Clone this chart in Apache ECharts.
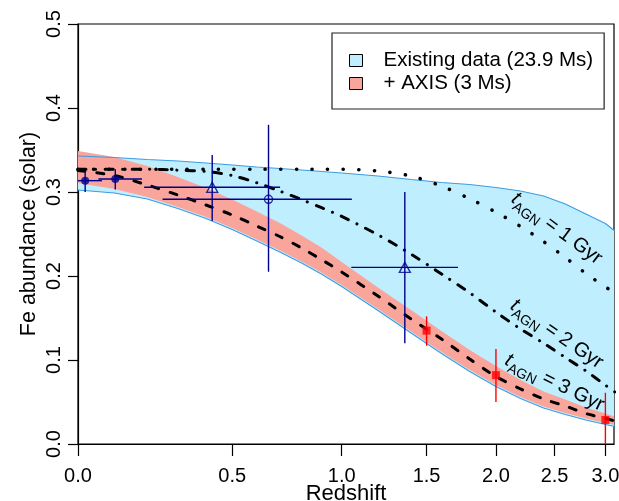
<!DOCTYPE html>
<html><head><meta charset="utf-8">
<script src="https://cdn.jsdelivr.net/npm/echarts@6/dist/echarts.min.js"></script>
<style>html,body{margin:0;padding:0;background:#fff}#c{width:619px;height:501px}</style>
</head><body><div id="c"></div>
<script>
// ---- data (redshift z, Fe abundance in solar units) ----
const zGrid = [0,0.1,0.2,0.3,0.4,0.5,0.6,0.7,0.8,0.9,1.0,1.2,1.4,1.6,1.8,2.0,2.2,2.4,2.6,2.8,3.0,3.1];
const existingUpper = [0.3429,0.3411,0.3387,0.3369,0.3345,0.3321,0.3298,0.3280,0.3262,0.3244,0.3226,0.3190,0.3149,0.3113,0.3089,0.3054,0.3012,0.2952,0.2857,0.2738,0.2625,0.2536];
const existingLower = [0.3024,0.2988,0.2917,0.2804,0.2685,0.2554,0.2417,0.2286,0.2155,0.2018,0.1875,0.1589,0.1321,0.1077,0.0863,0.0685,0.0542,0.0429,0.0351,0.0286,0.0232,0.0208];
const axisUpper = [0.3488,0.3417,0.3310,0.3179,0.3048,0.2911,0.2768,0.2631,0.2482,0.2333,0.2167,0.1863,0.1595,0.1345,0.1119,0.0929,0.0762,0.0625,0.0530,0.0435,0.0363,0.0327];
const axisLower = [0.3107,0.3036,0.2940,0.2821,0.2702,0.2571,0.2435,0.2304,0.2173,0.2036,0.1893,0.1607,0.1339,0.1095,0.0881,0.0702,0.0560,0.0446,0.0369,0.0304,0.0250,0.0226];
const tAgn1 = [0.327,0.327,0.327,0.327,0.327,0.327,0.327,0.327,0.327,0.327,0.327,0.325,0.319,0.307,0.292,0.276,0.259,0.241,0.222,0.203,0.187,0.180];
const tAgn2 = [0.327,0.327,0.327,0.326,0.3244,0.3196,0.311,0.301,0.291,0.281,0.271,0.249,0.226,0.2024,0.180,0.157,0.137,0.120,0.103,0.087,0.070,0.062];
const tAgn3 = [0.3256,0.3196,0.3083,0.2964,0.2845,0.2726,0.2595,0.2470,0.2333,0.2190,0.2048,0.1762,0.1488,0.1250,0.1012,0.0804,0.0655,0.0536,0.0452,0.0363,0.0304,0.0274];

// existing measurements
const obsZ = [0.019, 0.103, 0.423, 0.650, 1.361];
const obsFe = [0.3135, 0.3155, 0.3056, 0.2913, 0.2103];
const obsFeLo = [0.300, 0.303, 0.2655, 0.2051, 0.1199];
const obsFeHi = [0.325, 0.327, 0.344, 0.380, 0.300];
const obsZLo = [0.0, 0.055, 0.19, 0.249, 1.051];
const obsZHi = [0.065, 0.183, 0.701, 1.054, 1.715];
const obsSymbol = ['circle','circle','triangle','circle','triangle'];
const obsFilled = [true, true, false, false, false];

// AXIS simulated measurements
const axZ = [1.5, 2.0, 3.0];
const axFe = [0.135, 0.082, 0.0286];
const axFeLo = [0.117, 0.050, -0.01];
const axFeHi = [0.152, 0.113, 0.061];

const xTicks = [0, 0.5, 1.0, 1.5, 2.0, 2.5, 3.0];
const curveLabels = [
  {gyr: '1', z: 2.52, fe: 0.2565, angle: 36.5},
  {gyr: '2', z: 2.52, fe: 0.1310, angle: 34.5},
  {gyr: '3', z: 2.50, fe: 0.0730, angle: 26}
];
const legendNames = ['Existing data (23.9 Ms)', '+ AXIS (3 Ms)'];

// ---- chart ----
const FONT = '"Liberation Sans", Arial, Helvetica, sans-serif';
const NAVY = '#00008B';
const BLUE_FILL = '#BFEFFF';
const BLUE_LINE = '#3D9BE3';
const RED_FILL = '#F9A59C';
const toU = z => Math.log(1 + z);
const zMax = 3.0916;
const pts = ys => zGrid.map((z, i) => [toU(z), ys[i]]);

const chart = echarts.init(document.getElementById('c'), null, {renderer: 'canvas'});

function bandRender(lower, upper, color) {
  return function (params, api) {
    if (params.dataIndex !== 0) return null;
    const poly = [];
    for (let i = 0; i < zGrid.length; i++) poly.push(api.coord([toU(zGrid[i]), upper[i]]));
    for (let i = zGrid.length - 1; i >= 0; i--) poly.push(api.coord([toU(zGrid[i]), lower[i]]));
    return {type: 'polygon', shape: {points: poly}, style: {fill: color, stroke: null}};
  };
}

function errRender(color, withX) {
  return function (params, api) {
    const x = api.value(0), y = api.value(1);
    const lo = api.coord([x, api.value(2)]);
    const hi = api.coord([x, api.value(3)]);
    const children = [{type: 'line', shape: {x1: lo[0], y1: lo[1], x2: hi[0], y2: hi[1]},
      style: {stroke: color, lineWidth: 1.4}}];
    if (withX) {
      const l = api.coord([api.value(4), y]);
      const r = api.coord([api.value(5), y]);
      children.push({type: 'line', shape: {x1: l[0], y1: l[1], x2: r[0], y2: r[1]},
        style: {stroke: color, lineWidth: 1.4}});
    }
    return {type: 'group', children};
  };
}

const lineBase = {type: 'line', showSymbol: false, symbol: 'none', silent: true, animation: false};

chart.setOption({
  animation: false,
  backgroundColor: '#fff',
  grid: {left: 78, right: 5, top: 24, bottom: 57, containLabel: false, outerBoundsMode: 'none',
    show: true, borderColor: '#000', borderWidth: 1.2, backgroundColor: 'transparent'},
  legend: {
    orient: 'vertical', left: 332, top: 33,
    padding: [17, 11, 15, 17],
    borderColor: '#222', borderWidth: 1.2, backgroundColor: '#fff',
    itemWidth: 13, itemHeight: 12, itemGap: 2, icon: 'rect', selectedMode: false,
    itemStyle: {borderColor: '#000', borderWidth: 1},
    textStyle: {fontSize: 20.5, fontFamily: FONT, color: '#000', padding: [0, 0, 0, 16], lineHeight: 20},
    data: [
      {name: legendNames[0], itemStyle: {color: BLUE_FILL, borderColor: '#000', borderWidth: 1}},
      {name: legendNames[1], itemStyle: {color: RED_FILL, borderColor: '#000', borderWidth: 1}}
    ]
  },
  xAxis: {
    type: 'value', min: 0, max: toU(zMax),
    name: 'Redshift', nameLocation: 'middle', nameGap: 39, nameMoveOverlap: false,
    nameTextStyle: {fontSize: 22, fontFamily: FONT, color: '#000', lineHeight: 22},
    axisLine: {show: true, lineStyle: {color: '#000', width: 1.2}},
    axisTick: {show: true, inside: false, length: 12, lineStyle: {color: '#000', width: 1.2}, customValues: xTicks.map(toU)},
    axisLabel: {fontSize: 20, fontFamily: FONT, color: '#000', margin: 22, customValues: xTicks.map(toU),
      formatter: v => (Math.exp(v) - 1).toFixed(1)},
    splitLine: {show: false}
  },
  yAxis: {
    type: 'value', min: 0, max: 0.5, interval: 0.1,
    name: 'Fe abundance (solar)', nameLocation: 'middle', nameGap: 38, nameRotate: 90, nameMoveOverlap: false,
    nameTextStyle: {fontSize: 21.5, fontFamily: FONT, color: '#000'},
    axisLine: {show: true, lineStyle: {color: '#000', width: 1.2}},
    axisTick: {show: true, inside: false, length: 10, lineStyle: {color: '#000', width: 1.2}},
    axisLabel: {fontSize: 20, fontFamily: FONT, color: '#000', rotate: 90, margin: 14,
      formatter: v => v.toFixed(1)},
    splitLine: {show: false}
  },
  series: [
    {type: 'custom', name: legendNames[0], z: 1, clip: true, silent: true, itemStyle: {color: BLUE_FILL},
      renderItem: bandRender(existingLower, existingUpper, BLUE_FILL),
      data: zGrid.map((z, i) => [toU(z), existingLower[i], existingUpper[i]])},
    {type: 'custom', name: legendNames[1], z: 1, clip: true, silent: true, itemStyle: {color: RED_FILL},
      renderItem: bandRender(axisLower, axisUpper, RED_FILL),
      data: zGrid.map((z, i) => [toU(z), axisLower[i], axisUpper[i]])},
    Object.assign({}, lineBase, {name: 'existingUpperEdge', z: 2, data: pts(existingUpper), lineStyle: {color: BLUE_LINE, width: 1.1}}),
    Object.assign({}, lineBase, {name: 'existingLowerEdge', z: 2, data: pts(existingLower), lineStyle: {color: BLUE_LINE, width: 1.1}}),
    Object.assign({}, lineBase, {name: 'tAGN1', z: 3, data: pts(tAgn1), smooth: 0.3, lineStyle: {color: '#000', width: 3.6, type: [0.1, 15.5], cap: 'round'}}),
    Object.assign({}, lineBase, {name: 'tAGN2', z: 3, data: pts(tAgn2), smooth: 0.3, lineStyle: {color: '#000', width: 3, type: [8, 9.5, 0.1, 9.5], cap: 'round'}}),
    Object.assign({}, lineBase, {name: 'tAGN3', z: 3, data: pts(tAgn3), smooth: 0.3, lineStyle: {color: '#000', width: 3, type: [7, 12], cap: 'round'}}),
    {
      type: 'custom', name: 'obsErr', z: 4, clip: true, silent: true,
      renderItem: errRender(NAVY, true),
      data: obsZ.map((z, i) => [toU(z), obsFe[i], obsFeLo[i], obsFeHi[i], toU(obsZLo[i]), toU(obsZHi[i])])
    },
    {
      type: 'scatter', name: 'obs', z: 5, silent: true,
      data: obsZ.map((z, i) => ({
        value: [toU(z), obsFe[i]],
        symbol: obsSymbol[i],
        symbolSize: obsSymbol[i] === 'triangle' ? [11, 10] : 8,
        itemStyle: obsFilled[i] ? {color: NAVY} : {color: 'rgba(0,0,0,0)', borderColor: NAVY, borderWidth: 1.4}
      }))
    },
    {
      type: 'custom', name: 'axErr', z: 4, clip: true, silent: true,
      renderItem: errRender('#FF0000', false),
      data: axZ.map((z, i) => [toU(z), axFe[i], axFeLo[i], axFeHi[i]])
    },
    {
      type: 'scatter', name: 'axPts', z: 5, silent: true, symbol: 'rect', symbolSize: 8,
      itemStyle: {color: '#FF0000'},
      data: axZ.map((z, i) => [toU(z), axFe[i]])
    }
  ]
});

// curve labels placed in data space
const gfx = curveLabels.map(l => {
  const p = chart.convertToPixel({gridIndex: 0}, [toU(l.z), l.fe]);
  return {
    type: 'text', x: p[0], y: p[1], rotation: -l.angle * Math.PI / 180, z: 100,
    style: {
      text: '{t|t}{s|AGN}{n| = ' + l.gyr + ' Gyr}',
      align: 'center', verticalAlign: 'middle',
      rich: {
        t: {fontSize: 20, fontStyle: 'italic', fontFamily: FONT, fill: '#000', lineHeight: 20, verticalAlign: 'middle'},
        s: {fontSize: 14, fontFamily: FONT, fill: '#000', lineHeight: 28, verticalAlign: 'bottom'},
        n: {fontSize: 20, fontFamily: FONT, fill: '#000', lineHeight: 20, verticalAlign: 'middle'}
      }
    }
  };
});
chart.setOption({graphic: gfx});
</script></body></html>
